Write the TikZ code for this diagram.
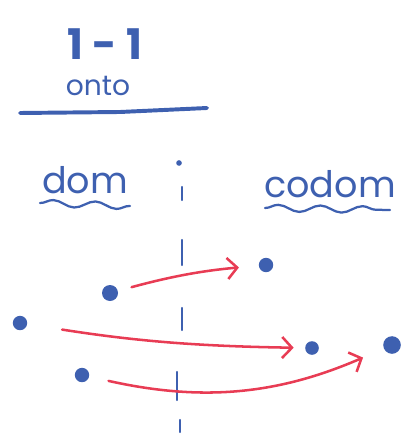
\documentclass[tikz,border=0pt]{standalone}
\usepackage{fontspec}
\setmainfont{Poppins}
\definecolor{penblue}{RGB}{62,96,176}
\definecolor{penred}{RGB}{232,60,84}
\usetikzlibrary{arrows.meta,decorations.pathmorphing}

\begin{document}
\begin{tikzpicture}[
  x=0.025cm,y=-0.025cm,
  ink/.style={text=penblue,inner sep=0pt},
  pt/.style={circle,fill=penblue,inner sep=0pt,minimum size=0.4cm},
  mapsto/.style={-{Straight Barb[length=7pt,width=15pt,line width=1.8pt]},penred,line width=1.8pt,line cap=round},
  squiggle/.style={penblue,line width=1.6pt,line cap=round,
    decorate,decoration={snake,amplitude=2.4pt,segment length=30pt}}
]
  \useasboundingbox (0,0) rectangle (417,445);
  % Title
  \node[ink,font=\fontsize{30}{32}\selectfont\bfseries] (title) at (105,44) {1 - 1};
  \node[ink,font=\fontsize{20}{22}\selectfont] (onto) at (98,86) {onto};
  \draw[penblue,line width=2.8pt,line cap=round] (20,113) -- (120,112) -- (207,108);
  % Headings
  \node[ink,font=\fontsize{26}{28}\selectfont] (dom) at (85,180) {dom};
  \node[ink,font=\fontsize{26}{28}\selectfont] (codom) at (330,184) {codom};
  \draw[squiggle] (40,203) -- (130,206);
  \draw[squiggle] (265,208) -- (390,210);
  % Divider
  \fill[penblue] (179,163) circle (2pt);
  \foreach \xa/\ya/\yb in {182/187/200, 182/240/265, 182/308/330, 177/372/400, 180/420/432} {
    \draw[penblue,line width=1.6pt,line cap=round] (\xa,\ya) -- (\xa,\yb);
  }
  % Points
  \node[pt] (d1) at (110,293) {};
  \node[pt,minimum size=0.36cm] (d2) at (20,323) {};
  \node[pt,minimum size=0.36cm] (d3) at (82,375) {};
  \node[pt,minimum size=0.36cm] (c1) at (266,265) {};
  \node[pt,minimum size=0.34cm] (c2) at (312,348) {};
  \node[pt,minimum size=0.44cm] (c3) at (392,345) {};
  % Arrows
  \draw[mapsto,shorten <=10pt,shorten >=14pt] (d1) to[bend left=5] (c1);
  \draw[mapsto,shorten <=25pt,shorten >=8pt] (d2) to[bend right=4] (c2);
  \draw[mapsto,shorten <=14pt,shorten >=16pt] (d3) to[bend right=18] (c3);
\end{tikzpicture}
\end{document}
